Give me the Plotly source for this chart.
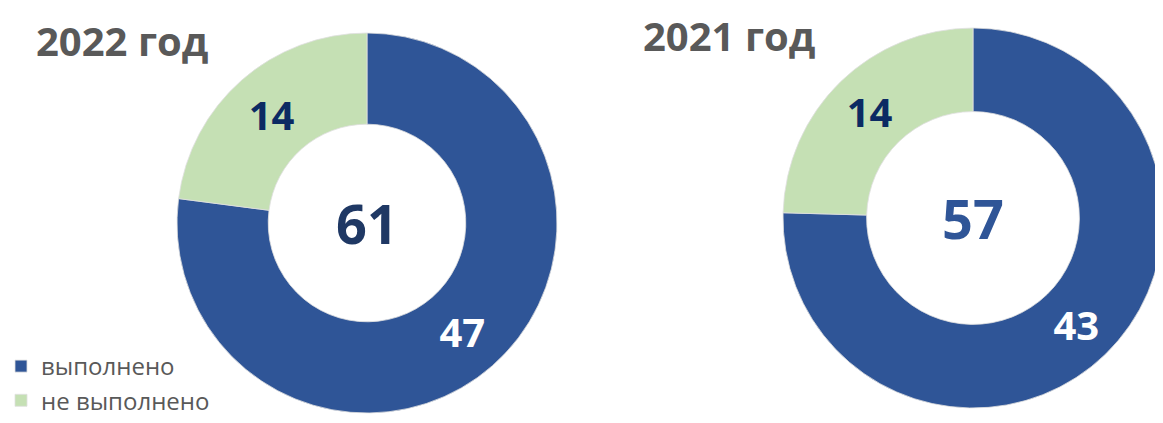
import plotly.graph_objects as go

# The page body adds an 8px margin; work in window pixels and subtract it.
OFF = 8
WIN_W, WIN_H = 1163, 423
W, H = WIN_W - OFF, WIN_H - OFF

years = ["2022 год", "2021 год"]
labels = ["выполнено", "не выполнено"]
done = [47, 43]
not_done = [14, 14]
colors = ["#2F5597", "#C5E0B4"]
text_colors = ["#FFFFFF", "#0B2A63"]
center_colors = ["#1F3864", "#2F5597"]

# window-pixel geometry: (center x, center y from top, radius, hole)
geo = [(367, 223, 190, 0.52), (973, 218, 190, 0.56)]
title_pos = [(122, 40), (729, 35)]


def px(x):
    return (x - OFF) / W


def py(y):
    return (H - (y - OFF)) / H


fig = go.Figure()
for i, yr in enumerate(years):
    cx, cy, r, hole = geo[i]
    x0, x1 = px(cx - r), px(cx + r)
    y0, y1 = py(cy + r), py(cy - r)
    fig.add_trace(go.Pie(
        labels=labels,
        values=[done[i], not_done[i]],
        hole=hole,
        sort=False,
        direction="clockwise",
        rotation=0,
        marker=dict(colors=colors, line=dict(color="#E0E0E0", width=0.8)),
        textinfo="value",
        textposition="inside",
        insidetextorientation="horizontal",
        textfont=dict(family="Open Sans", size=40, color=text_colors, weight="bold"),
        domain=dict(x=[max(0, x0), min(1, x1)], y=[max(0, y0), min(1, y1)]),
        showlegend=(i == 0),
        hoverinfo="label+value",
    ))
    total = done[i] + not_done[i]
    fig.add_annotation(
        x=px(cx), y=py(cy), xref="paper", yref="paper",
        text=f"<b>{total}</b>", showarrow=False,
        font=dict(family="Open Sans", size=54, color=center_colors[i]),
        xanchor="center", yanchor="middle",
    )
    tx, ty = title_pos[i]
    fig.add_annotation(
        x=px(tx), y=py(ty), xref="paper", yref="paper",
        text=f"<b>{yr}</b>", showarrow=False,
        font=dict(family="Open Sans", size=40, color="#595959"),
        xanchor="center", yanchor="middle",
    )

fig.update_layout(
    width=W, height=H,
    margin=dict(l=0, r=0, t=0, b=0, autoexpand=False),
    paper_bgcolor="white", plot_bgcolor="white",
    legend=dict(
        x=px(1), y=py(344), xanchor="left", yanchor="top",
        font=dict(family="Open Sans", size=24, color="#595959"),
        bgcolor="rgba(255,255,255,0)",
        traceorder="normal",
    ),
)

fig.write_html("out.html")
